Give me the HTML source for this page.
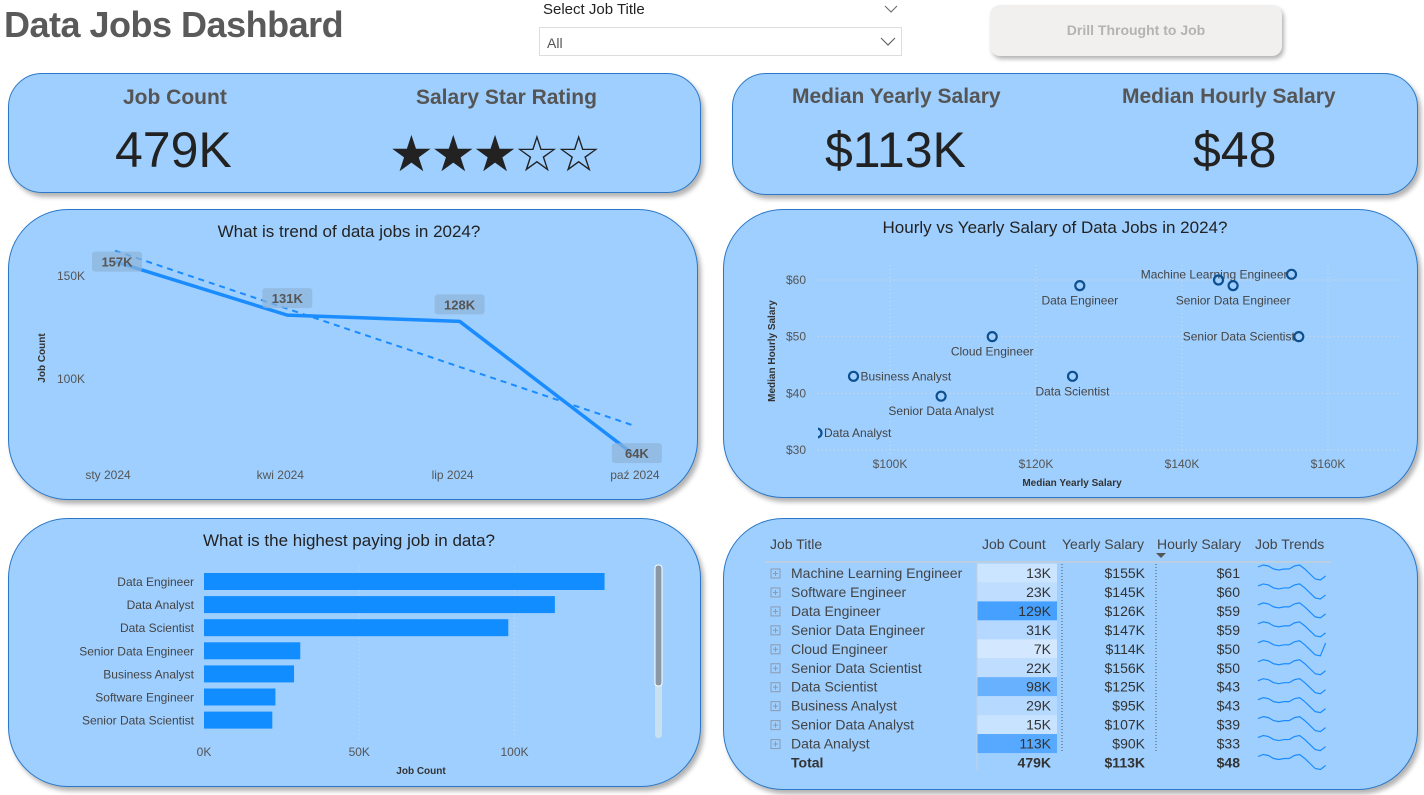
<!DOCTYPE html>
<html><head><meta charset="utf-8">
<style>
*{margin:0;padding:0;box-sizing:border-box}
body{width:1424px;height:795px;background:#fff;position:relative;overflow:hidden;font-family:"Liberation Sans",sans-serif;color:#333}
.card{position:absolute;background:#9fcfff;border:1.5px solid #2a78c8;box-shadow:3px 4px 5px rgba(0,0,0,0.3)}
.abs{position:absolute;white-space:nowrap}
svg text{font-family:"Liberation Sans",sans-serif}
</style></head>
<body>
<div class="abs" style="left:4px;top:4px;font-size:36px;font-weight:bold;color:#5a5a5a;letter-spacing:-0.5px">Data Jobs Dashbard</div>

<div class="abs" style="left:543px;top:1px;font-size:15px;color:#222">Select Job Title</div>
<svg class="abs" style="left:884px;top:4px" width="14" height="10"><polyline points="1,2 7,8 13,2" fill="none" stroke="#666" stroke-width="1"/></svg>
<div class="abs" style="left:539px;top:27px;width:363px;height:29px;border:1px solid #ddd;background:#fff">
  <span class="abs" style="left:7px;top:7px;font-size:14px;color:#555">All</span>
  <svg class="abs" style="left:340px;top:9px" width="16" height="10"><polyline points="1,1 8,8 15,1" fill="none" stroke="#666" stroke-width="1.2"/></svg>
</div>
<div class="abs" style="left:990px;top:5px;width:292px;height:51px;border-radius:10px;background:#f1f0ef;box-shadow:2px 3px 4px rgba(0,0,0,0.3);text-align:center;line-height:51px;font-size:14px;font-weight:bold;color:#b3b3b3">Drill Throught to Job</div>

<!-- KPI cards -->
<div class="card" style="left:8px;top:73px;width:693px;height:120px;border-radius:34px">
  <div class="abs" style="left:114px;top:12px;font-size:21px;font-weight:bold;color:#555">Job Count</div>
  <div class="abs" style="left:106px;top:47px;font-size:50px;color:#222">479K</div>
  <div class="abs" style="left:407px;top:12px;font-size:21px;font-weight:bold;color:#555">Salary Star Rating</div>
  <div class="abs" style="left:380px;top:50px;font-size:50px;color:#222;letter-spacing:-3px;line-height:60px">★★★☆☆</div>
</div>
<div class="card" style="left:732px;top:73px;width:686px;height:122px;border-radius:34px">
  <div class="abs" style="left:59px;top:11px;font-size:21px;font-weight:bold;color:#555">Median Yearly Salary</div>
  <div class="abs" style="left:92px;top:47px;font-size:50px;color:#222">$113K</div>
  <div class="abs" style="left:389px;top:11px;font-size:21px;font-weight:bold;color:#555">Median Hourly Salary</div>
  <div class="abs" style="left:460px;top:47px;font-size:50px;color:#222">$48</div>
</div>

<div class="card" style="left:8px;top:209px;width:690px;height:291px;border-radius:60px"></div>
<div class="card" style="left:723px;top:209px;width:695px;height:289px;border-radius:60px"></div>
<div class="card" style="left:8px;top:518px;width:693px;height:269px;border-radius:60px"></div>
<div class="card" style="left:723px;top:518px;width:695px;height:272px;border-radius:60px"></div>

<svg id="charts" class="abs" style="left:0;top:0" width="1424" height="795"></svg>

<script>
// ---------- Trend chart data ----------
const trendMonths = ["sty 2024","kwi 2024","lip 2024","paź 2024"];
const trendCounts = [157,131,128,64];
const trendLabels = ["157K","131K","128K","64K"];
const trendTicks = [100,150];
const trendTickLabels = ["100K","150K"];
// ---------- Scatter data ----------
const scatJobs = ["Machine Learning Engineer","Software Engineer","Data Engineer","Senior Data Engineer","Cloud Engineer","Senior Data Scientist","Data Scientist","Business Analyst","Senior Data Analyst","Data Analyst"];
const scatYearly = [155,145,126,147,114,156,125,95,107,90];
const scatHourly = [61,60,59,59,50,50,43,43,39.5,33];
const scatXTicks = [100,120,140,160];
const scatXTickLabels = ["$100K","$120K","$140K","$160K"];
const scatYTicks = [30,40,50,60];
const scatYTickLabels = ["$30","$40","$50","$60"];
// ---------- Bar data ----------
const barJobs = ["Data Engineer","Data Analyst","Data Scientist","Senior Data Engineer","Business Analyst","Software Engineer","Senior Data Scientist"];
const barCounts = [129,113,98,31,29,23,22];
const barTicks = [0,50,100];
const barTickLabels = ["0K","50K","100K"];
// ---------- Table data ----------
const tblJobs = ["Machine Learning Engineer","Software Engineer","Data Engineer","Senior Data Engineer","Cloud Engineer","Senior Data Scientist","Data Scientist","Business Analyst","Senior Data Analyst","Data Analyst"];
const tblCounts = [13,23,129,31,7,22,98,29,15,113];
const tblYearly = [155,145,126,147,114,156,125,95,107,90];
const tblHourly = [61,60,59,59,50,50,43,43,39,33];
const tblTotal = ["479K","$113K","$48"];
const sparkShape = [2,0,1,4,5,4,4,1,0,4,9,14,15,11];

const NS="http://www.w3.org/2000/svg";
const svg=document.getElementById('charts');
function mk(tag,attrs,parent){const e=document.createElementNS(NS,tag);for(const k in attrs)e.setAttribute(k,attrs[k]);(parent||svg).appendChild(e);return e;}
function txt(s,attrs,parent){const e=mk('text',attrs,parent);e.textContent=s;return e;}

// ===== Trend chart =====
const tx=i=>115+i*172.3;
const ty=v=>276-(v-150)*2.06;
let t=txt("What is trend of data jobs in 2024?",{x:349,y:237,'font-size':17,'text-anchor':'middle',fill:'#222'});


trendTicks.forEach((v,i)=>{const e=txt(trendTickLabels[i],{x:85,y:ty(v)+4,'font-size':12,'text-anchor':'end',fill:'#555'});

});
t=txt("Job Count",{x:0,y:0,'font-size':10,'font-weight':'bold',fill:'#333','text-anchor':'middle',transform:'translate(45,358) rotate(-90)'});


trendMonths.forEach((m,i)=>{const e=txt(m,{x:tx(i)-7+ (i==3?10:0),y:479,'font-size':12,'text-anchor':'middle',fill:'#555'});

});
const n=trendCounts.length;let sx=0,sy=0,sxy=0,sxx=0;trendCounts.forEach((v,i)=>{sx+=i;sy+=v;sxy+=i*v;sxx+=i*i});
const slope=(n*sxy-sx*sy)/(n*sxx-sx*sx),icpt=(sy-slope*sx)/n;
t=mk('line',{x1:tx(0),y1:ty(icpt),x2:tx(n-1),y2:ty(icpt+slope*(n-1)),stroke:'#1a8cff','stroke-width':2,'stroke-dasharray':'6,5'});


t=mk('polyline',{points:trendCounts.map((v,i)=>tx(i)+','+ty(v)).join(' '),fill:'none',stroke:'#1a8cff','stroke-width':3.5,'stroke-linejoin':'round'});


trendCounts.forEach((v,i)=>{
  const cx=tx(i)+ (i==0?2:(i==3?5:0)), cy=ty(v)-(i==0?0:(i==3?0:17));
  const r=mk('rect',{x:cx-25,y:cy-10,width:50,height:20,rx:3,fill:'#8fb4d8','fill-opacity':0.7});
  
  
  const e=txt(trendLabels[i],{x:cx,y:cy+5,'font-size':13,'font-weight':'bold','text-anchor':'middle',fill:'#555'});
  
  
});

// ===== Scatter =====
const sxf=v=>890+(v-100)*7.3;
const syf=v=>450-(v-30)*5.667;
t=txt("Hourly vs Yearly Salary of Data Jobs in 2024?",{x:1055,y:233,'font-size':17,'text-anchor':'middle',fill:'#222'});


scatYTicks.forEach((v,i)=>{
  const g=mk('line',{x1:818,x2:1400,y1:syf(v),y2:syf(v),stroke:'#c8dcef','stroke-dasharray':'1,3'});
  
  
  const e=txt(scatYTickLabels[i],{x:806,y:syf(v)+4,'font-size':12,'text-anchor':'end',fill:'#555'});
  
  
});
scatXTicks.forEach((v,i)=>{
  const g=mk('line',{x1:sxf(v),x2:sxf(v),y1:265,y2:455,stroke:'#c8dcef','stroke-dasharray':'1,3'});
  
  
  const e=txt(scatXTickLabels[i],{x:sxf(v),y:468,'font-size':12,'text-anchor':'middle',fill:'#555'});
  
  
});
t=txt("Median Yearly Salary",{x:1072,y:486,'font-size':10,'font-weight':'bold','text-anchor':'middle',fill:'#333'});


t=txt("Median Hourly Salary",{x:0,y:0,'font-size':10,'font-weight':'bold','text-anchor':'middle',fill:'#333',transform:'translate(775,351) rotate(-90)'});


const defs=mk('defs',{});const cp=mk('clipPath',{id:'scClip'},defs);mk('rect',{x:818,y:250,width:600,height:220},cp);
const sg=mk('g',{'clip-path':'url(#scClip)'});
const lblPos=[[-4,4,'end'],null,[0,19,'middle'],[0,19,'middle'],[0,19,'middle'],[-4,4,'end'],[0,19,'middle'],[7,4,'start'],[0,19,'middle'],[7,4,'start']];
scatJobs.forEach((j,i)=>{
  const cx=sxf(scatYearly[i]),cy=syf(scatHourly[i]);
  const c=mk('circle',{cx:cx,cy:cy,r:4.5,fill:'none',stroke:'#0d4f8f','stroke-width':2.2},sg);
  
  
  const p=lblPos[i];
  if(p){const e=txt(j,{x:cx+p[0],y:cy+p[1],'font-size':12,'text-anchor':p[2],fill:'#444'},sg);
  
  }
});

// ===== Bar chart =====
const bx=v=>204+v*3.105;
const by=i=>573+i*23.1;
t=txt("What is the highest paying job in data?",{x:349,y:546,'font-size':17,'text-anchor':'middle',fill:'#222'});


barTicks.forEach((v,i)=>{
  if(v>0){const g=mk('line',{x1:bx(v),x2:bx(v),y1:566,y2:742,stroke:'#c8dcef','stroke-dasharray':'1,3'});
  
  }
  const e=txt(barTickLabels[i],{x:bx(v),y:756,'font-size':12,'text-anchor':'middle',fill:'#555'});
  
  
});
t=txt("Job Count",{x:421,y:774,'font-size':10,'font-weight':'bold','text-anchor':'middle',fill:'#333'});


barJobs.forEach((j,i)=>{
  const r=mk('rect',{x:bx(0),y:by(i),width:bx(barCounts[i])-bx(0),height:17,fill:'#118dff'});
  
  
  const e=txt(j,{x:194,y:by(i)+13,'font-size':12,'text-anchor':'end',fill:'#444'});
  
  
});
t=mk('rect',{x:655,y:565,width:7,height:173,rx:3,fill:'#c9dff2'});


t=mk('rect',{x:655,y:565,width:7,height:121,rx:3,fill:'#8b97a3',stroke:'#fff','stroke-width':1});



// ===== Table =====
const hdr=[["Job Title",770,'start'],["Job Count",982,'start'],["Yearly Salary",1062,'start'],["Hourly Salary",1157,'start'],["Job Trends",1255,'start']];
hdr.forEach(h=>{const e=txt(h[0],{x:h[1],y:549,'font-size':14,'text-anchor':h[2],fill:'#444'});

});
t=mk('polygon',{points:'1156,553 1166,553 1161,558',fill:'#555'});


mk('line',{x1:765,x2:1331,y1:562,y2:562,stroke:'#c4cfdb','stroke-width':1.5});
const rowY=i=>573+i*18.95;
const maxC=Math.max(...tblCounts);
function shade(v){const f=v/maxC;const a=[222,238,255],b=[69,160,255];return `rgb(${a.map((c,k)=>Math.round(c+(b[k]-c)*Math.pow(f,0.9))).join(',')})`;}
tblJobs.forEach((j,i)=>{
  const y=rowY(i);
  const ic=mk('rect',{x:771,y:y-4,width:9,height:9,fill:'none',stroke:'#8a9bb0','stroke-width':1});
  
  
  mk('line',{x1:773,x2:778,y1:y+0.5,y2:y+0.5,stroke:'#8a9bb0'});mk('line',{x1:775.5,x2:775.5,y1:y-2,y2:y+3,stroke:'#8a9bb0'});
  let e=txt(j,{x:791,y:y+5,'font-size':14,fill:'#444'});
  
  
  const r=mk('rect',{x:977,y:y-9.5,width:80,height:19,fill:shade(tblCounts[i])});
  
  
  e=txt(tblCounts[i]+"K",{x:1051,y:y+5,'font-size':14,'text-anchor':'end',fill:'#333'});
  
  
  e=txt("$"+tblYearly[i]+"K",{x:1145,y:y+5,'font-size':14,'text-anchor':'end',fill:'#333'});
  
  
  e=txt("$"+tblHourly[i],{x:1240,y:y+5,'font-size':14,'text-anchor':'end',fill:'#333'});
  
  
});
mk('line',{x1:1062,x2:1062,y1:564,y2:753,stroke:'#555','stroke-dasharray':'1,2'});
mk('line',{x1:1156,x2:1156,y1:564,y2:753,stroke:'#555','stroke-dasharray':'1,2'});
mk('line',{x1:977,x2:977,y1:564,y2:770,stroke:'#c4cfdb'});
const totY=rowY(10);
[["Total",791,'start'],[tblTotal[0],1051,'end'],[tblTotal[1],1145,'end'],[tblTotal[2],1240,'end']].forEach(a=>{
  const e=txt(a[0],{x:a[1],y:totY+5,'font-size':14,'font-weight':'bold','text-anchor':a[2],fill:'#333'});
  
  
});
for(let i=0;i<=10;i++){
  const y0=rowY(i)-8;
  const pts=sparkShape.map((v,k)=>(1258+k*5.2)+','+(y0+v*(i==4&&k==13?0.2:1))).join(' ');
  const p=mk('polyline',{points:pts,fill:'none',stroke:'#1a8cff','stroke-width':1.2});
  
  
}
</script>
</body></html>
